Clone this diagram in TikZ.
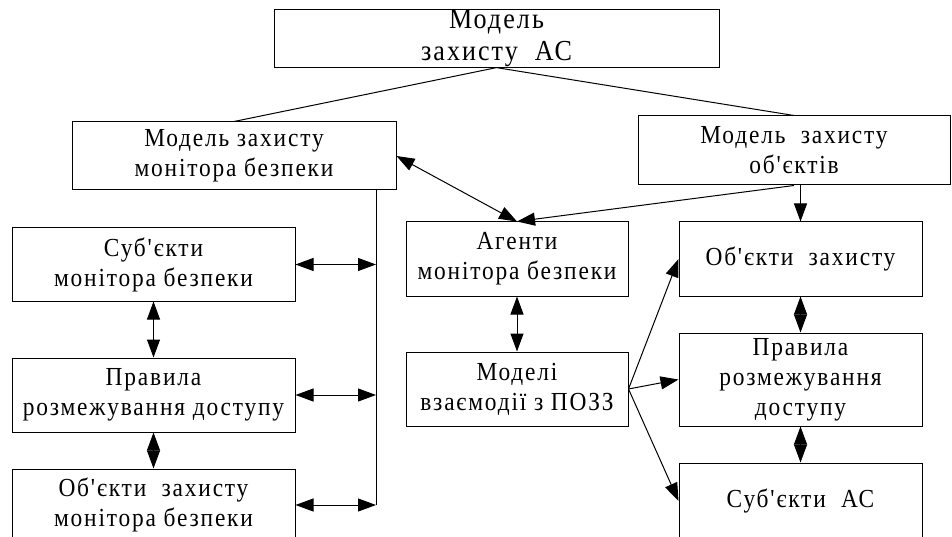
\documentclass[tikz,border=0pt]{standalone}
\usepackage{fontspec}
\usetikzlibrary{arrows.meta}
\newfontfamily\boxfont{Liberation Serif}[LetterSpace=7, FakeStretch=0.9]
\tikzset{
  box/.style={draw, line width=1pt, align=center, inner sep=0pt,
    font=\boxfont\fontsize{26}{30}\selectfont},
  bigbox/.style={box, font=\boxfont\fontsize{29}{32}\selectfont},
  conn/.style={line width=1pt},
  tip/.tip={Triangle[length=18pt,width=13pt]},
  arr/.style={conn, -tip},
  dbl/.style={conn, tip-tip}
}
\begin{document}
\begin{tikzpicture}[x=1pt,y=-1pt]
\useasboundingbox (0,0) rectangle (952,537);

% top level
\node[bigbox, minimum width=445pt, minimum height=55pt] (top) at (496.5,38.5)
  {Модель\\захисту~ АС};

% second level
\node[box, minimum width=324pt, minimum height=68pt] (mm) at (234,156)
  {Модель захисту\\монітора безпеки};
\node[box, minimum width=312pt, minimum height=69pt] (mo) at (794,150.5)
  {Модель~ захисту\\об'єктів};

% left column
\node[box, minimum width=283pt, minimum height=73pt] (s1) at (153.5,264.5)
  {Суб'єкти\\монітора безпеки};
\node[box, minimum width=283pt, minimum height=74pt] (p1) at (153.5,395)
  {Правила\\розмежування доступу};
\node[box, minimum width=283pt, minimum height=72pt] (o1) at (153.5,505)
  {Об'єкти~ захисту\\монітора безпеки};

% middle column
\node[box, minimum width=222pt, minimum height=74pt] (ag) at (517,259)
  {Агенти\\монітора безпеки};
\node[box, minimum width=222pt, minimum height=74pt] (md) at (517,389)
  {Моделі\\взаємодії з ПОЗЗ};

% right column
\node[box, minimum width=243pt, minimum height=74pt] (o2) at (800.5,259)
  {Об'єкти~ захисту};
\node[box, minimum width=243pt, minimum height=93pt] (p2) at (800.5,379.5)
  {Правила\\розмежування\\доступу};
\node[box, minimum width=243pt, minimum height=76pt] (s2) at (800.5,501)
  {Суб'єкти~ АС};

% vertical bus on the left
\coordinate (bx) at (376,0);

\draw[conn] (top.south) -- (mm.north);
\draw[conn] (top.south) -- (mo.north);

\draw[conn] (mm.south -| bx) -- (o1.east -| bx);
\draw[dbl] (s1.east) -- (s1.east -| bx);
\draw[dbl] (p1.east) -- (p1.east -| bx);
\draw[dbl] (o1.east) -- (o1.east -| bx);
\draw[dbl] (s1.south) -- (p1.north);
\draw[dbl] (p1.south) -- (o1.north);

\draw[dbl] (mm.east) -- (ag.north);
\draw[arr] (mo.south) -- (ag.north);
\draw[arr] (mo.south -| o2.north) -- (o2.north);
\draw[dbl] (ag.south) -- (md.north);

\draw[arr] (md.east) -- (o2.west);
\draw[arr] (md.east) -- (p2.west);
\draw[arr] (md.east) -- (s2.west);
\draw[dbl] (o2.south) -- (p2.north);
\draw[dbl] (p2.south) -- (s2.north);
\end{tikzpicture}
\end{document}
